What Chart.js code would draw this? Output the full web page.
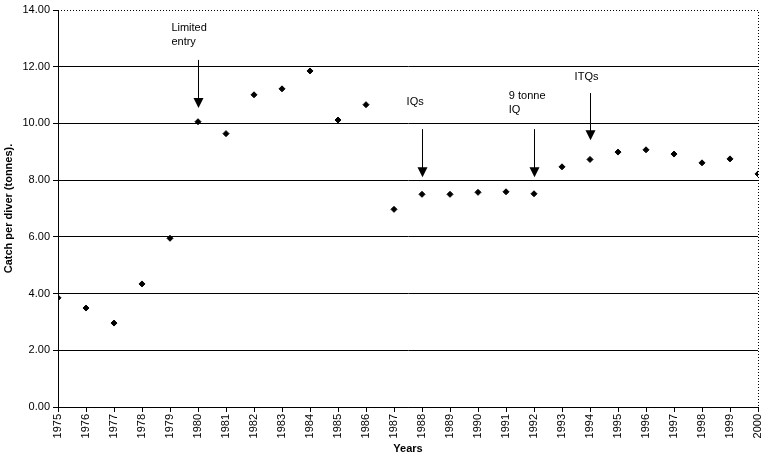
<!DOCTYPE html>
<html>
<head>
<meta charset="utf-8">
<script src="https://cdn.jsdelivr.net/npm/chart.js@4"></script>
<style>
  html, body { margin: 0; padding: 0; background: #fff; }
  #wrap { width: 766px; height: 458px; }
</style>
</head>
<body>
<div id="wrap"><canvas id="catchChart" width="766" height="458"></canvas></div>
<script>
// Catch per diver by year

const years = [1975, 1976, 1977, 1978, 1979, 1980, 1981, 1982, 1983, 1984, 1985, 1986, 1987,
               1988, 1989, 1990, 1991, 1992, 1993, 1994, 1995, 1996, 1997, 1998, 1999, 2000];
const catchPerDiver = [3.85, 3.49, 2.96, 4.34, 5.95, 10.06, 9.64, 11.01, 11.22, 11.85, 10.12, 10.66, 6.97,
                       7.50, 7.50, 7.57, 7.59, 7.52, 8.47, 8.73, 8.99, 9.07, 8.92, 8.61, 8.75, 8.22];

// management changes (arrows)
const noteYears = [1980, 1988, 1992, 1994];
const noteLines = [['Limited', 'entry'], ['IQs'], ['9 tonne', 'IQ'], ['ITQs']];
const noteTextX = [1979.05, 1987.45, 1991.1, 1993.45];
const noteTextY = [13.36, 10.75, 10.96, 11.64];
const arrowFrom = [12.24, 9.8, 9.8, 11.07];
const arrowTo = [10.54, 8.1, 8.1, 9.41];

const FONT = '"Liberation Sans", Arial, sans-serif';

const notesPlugin = {
    id: 'notes',
    afterDraw(chart) {
        const ctx = chart.ctx;
        const xs = chart.scales.x, ys = chart.scales.y;
        const a = chart.chartArea;
        ctx.save();
        // dotted top + right border
        ctx.strokeStyle = '#000';
        ctx.lineWidth = 1;
        ctx.setLineDash([1, 2]);
        ctx.beginPath();
        ctx.moveTo(a.left, a.top + 0.5);
        ctx.lineTo(a.right + 0.5, a.top + 0.5);
        ctx.lineTo(a.right + 0.5, a.bottom);
        ctx.stroke();
        ctx.setLineDash([]);

        ctx.fillStyle = '#000';
        ctx.font = '11px ' + FONT;
        ctx.textBaseline = 'middle';
        ctx.textAlign = 'left';
        noteYears.forEach((yr, i) => {
            const x = Math.round(xs.getPixelForValue(yr)) + 0.5;
            const y0 = ys.getPixelForValue(arrowFrom[i]);
            const y1 = ys.getPixelForValue(arrowTo[i]);
            ctx.beginPath();
            ctx.moveTo(x, y0);
            ctx.lineTo(x, y1 - 8);
            ctx.stroke();
            ctx.beginPath();
            ctx.moveTo(x - 5, y1 - 10);
            ctx.lineTo(x + 5, y1 - 10);
            ctx.lineTo(x, y1);
            ctx.closePath();
            ctx.fill();
            const tx = xs.getPixelForValue(noteTextX[i]);
            const ty = ys.getPixelForValue(noteTextY[i]);
            noteLines[i].forEach((t, k) => ctx.fillText(t, tx, ty + k * 14));
        });
        ctx.restore();
    }
};

const chart = new Chart(document.getElementById('catchChart').getContext('2d'), {
    type: 'scatter',
    data: {
        datasets: [{
            data: years.map((y, i) => ({x: y, y: catchPerDiver[i]})),
            pointStyle: 'rectRot',
            pointRadius: 3,
            backgroundColor: '#000',
            borderColor: '#000',
            borderWidth: 1
        }]
    },
    options: {
        responsive: false,
        animation: false,
        layout: { padding: { top: 10, right: 8, left: 2, bottom: 0 } },
        plugins: {
            legend: { display: false },
            tooltip: { enabled: false }
        },
        scales: {
            x: {
                type: 'linear',
                min: 1975,
                max: 2000,
                afterFit: s => { s.height = 51; s.paddingLeft = 0; s.paddingRight = 0; },
                afterBuildTicks: s => { s.ticks = years.map(v => ({value: v})); },
                ticks: {
                    stepSize: 1,
                    minRotation: 90,
                    maxRotation: 90,
                    autoSkip: false,
                    padding: 2,
                    color: '#000',
                    font: { family: FONT, size: 11 },
                    callback: v => String(v)
                },
                grid: { drawOnChartArea: false, drawTicks: true, tickLength: 5, color: '#000' },
                border: { color: '#000', width: 1 },
                title: {
                    display: true,
                    text: 'Years',
                    color: '#000',
                    font: { family: FONT, size: 11, weight: 'bold' },
                    padding: { top: 0, bottom: 2 }
                }
            },
            y: {
                min: 0,
                max: 14,
                afterFit: s => { s.width = 56; },
                ticks: {
                    stepSize: 2,
                    padding: 3,
                    color: '#000',
                    font: { family: FONT, size: 11 },
                    callback: v => v.toFixed(2)
                },
                grid: {
                    color: c => (c.tick && c.tick.value === 14) ? 'rgba(0,0,0,0)' : '#000',
                    tickColor: '#000',
                    tickLength: 5
                },
                border: { color: '#000', width: 1 },
                title: {
                    display: true,
                    text: 'Catch per diver (tonnes).',
                    color: '#000',
                    font: { family: FONT, size: 11, weight: 'bold' },
                    padding: { top: 0, bottom: 4 }
                }
            }
        }
    },
    plugins: [notesPlugin]
});
</script>
</body>
</html>
